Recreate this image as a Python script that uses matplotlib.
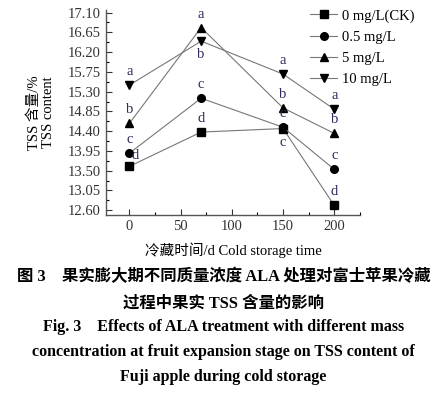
import matplotlib.pyplot as plt
from matplotlib.ticker import MultipleLocator
import numpy as np

plt.rcParams['font.family'] = ['Liberation Serif', 'Noto Sans CJK SC']

# data
days = [0, 70, 150, 200]
series_names = ['0 mg/L(CK)', '0.5 mg/L', '5 mg/L', '10 mg/L']
ck = [13.60, 14.38, 14.46, 12.71]
c05 = [13.90, 15.15, 14.49, 13.53]
c5 = [14.58, 16.76, 14.93, 14.35]
c10 = [15.45, 16.45, 15.70, 14.90]
letters_ck = ['d', 'd', 'c', 'd']
letters_05 = ['c', 'c', 'c', 'c']
letters_5 = ['b', 'a', 'b', 'b']
letters_10 = ['a', 'b', 'a', 'a']
yticks = [12.60, 13.05, 13.50, 13.95, 14.40, 14.85, 15.30, 15.75, 16.20, 16.65, 17.10]

fig = plt.figure(figsize=(4.47, 3.99), dpi=100)
ax = fig.add_axes([0.237, 0.461, 0.568, 0.514])

markers = ['s', 'o', '^', 'v']
all_vals = [ck, c05, c5, c10]
handles = []
for vals, m, name in zip(all_vals, markers, series_names):
    h, = ax.plot(days, vals, color='#777777', lw=0.8, marker=m, ms=5.5,
                 mfc='black', mec='black', label=name)
    handles.append(h)

lc = '#2e2a5c'
# letter offsets (points) per series per x
offs_ck = [(4, 3), (0, 5), (0, -15), (0, 5)]
offs_05 = [(0, 5), (0, 5), (0, 5), (0, 5)]
offs_5 = [(0, 5), (0, 5), (0, 5), (0, 5)]
offs_10 = [(0, 5), (0, -14), (0, 5), (0, 5)]
for vals, lets, offs in zip(all_vals, [letters_ck, letters_05, letters_5, letters_10],
                            [offs_ck, offs_05, offs_5, offs_10]):
    for x, y, t, o in zip(days, vals, lets, offs):
        ax.annotate(t, (x, y), xytext=o, textcoords='offset points',
                    ha='center', va='bottom', fontsize=10.5, color=lc)

ax.set_xlim(-23, 225)
ax.set_ylim(12.49, 17.16)
ax.set_xticks([0, 50, 100, 150, 200])
ax.xaxis.set_minor_locator(MultipleLocator(25))
ax.set_yticks(yticks)
ax.set_yticklabels([f'{v:.2f}' for v in yticks])
ax.yaxis.set_minor_locator(MultipleLocator(0.225))
ax.tick_params(direction='in', labelsize=10.5, length=4, width=0.8, colors='#333333')
ax.tick_params(which='minor', direction='in', length=2, width=0.8)
for s in ['top', 'right']:
    ax.spines[s].set_visible(False)
for s in ['left', 'bottom']:
    ax.spines[s].set_color('#555555')
    ax.spines[s].set_linewidth(1.0)

ax.set_ylabel('TSS 含量/%\nTSS content', fontsize=10.5, labelpad=9, linespacing=1.1)
ax.set_xlabel('冷藏时间/d Cold storage time', fontsize=10.5, labelpad=7)

leg = fig.legend(handles=handles, loc='upper left', bbox_to_anchor=(0.665, 1.01),
                 frameon=False, fontsize=10.5, handlelength=1.8, labelspacing=0.55,
                 handletextpad=0.4)

fig.text(0.5, 0.305, '图 3　果实膨大期不同质量浓度 ALA 处理对富士苹果冷藏',
         ha='center', va='center', fontsize=11.8, fontweight='bold')
fig.text(0.5, 0.240, '过程中果实 TSS 含量的影响',
         ha='center', va='center', fontsize=11.8, fontweight='bold')
fig.text(0.5, 0.180, 'Fig. 3    Effects of ALA treatment with different mass',
         ha='center', va='center', fontsize=11.5, fontweight='bold')
fig.text(0.5, 0.118, 'concentration at fruit expansion stage on TSS content of',
         ha='center', va='center', fontsize=11.5, fontweight='bold')
fig.text(0.5, 0.055, 'Fuji apple during cold storage',
         ha='center', va='center', fontsize=11.5, fontweight='bold')

fig.savefig('out.png', dpi=100)
